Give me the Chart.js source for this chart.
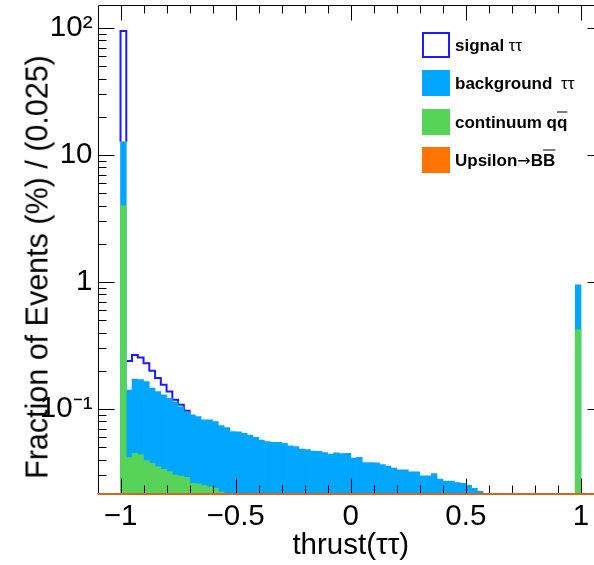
<!DOCTYPE html>
<html><head><meta charset="utf-8">
<script src="https://cdn.jsdelivr.net/npm/chart.js@4.4.1/dist/chart.umd.min.js"></script>
<style>
html,body{margin:0;padding:0;overflow:hidden;background:#fff;width:594px;height:565px;}
#wrap{position:relative;width:594px;height:565px;overflow:hidden;background:#fff;}
canvas{position:absolute;left:0;top:0;}
#ytitle{position:absolute;left:37px;top:267px;transform:translate(-50%,-50%) rotate(-90deg);font:30.5px "Liberation Sans",Arial,sans-serif;white-space:nowrap;color:#000;}
#legend{position:absolute;left:422px;top:0;font:bold 17px "Liberation Sans",Arial,sans-serif;color:#000;}
.entry{position:absolute;left:0;height:26px;width:170px;white-space:nowrap;}
.box{position:absolute;left:0;top:0;width:28px;height:26px;box-sizing:border-box;}
.lbl{position:absolute;left:33px;top:50%;transform:translateY(-50%);line-height:1;}
.ov{text-decoration:overline;}
.sym{font-weight:normal;}
.arr{font-weight:normal;font-family:"DejaVu Sans",sans-serif;font-size:16px;}
</style></head>
<body><div id="wrap"><canvas id="c" width="620" height="565" style="width:620px;height:565px"></canvas><div id="ytitle"></div><div id="legend"></div></div>
<script>
// ---- data ----
const binWidth = 0.025;
const binLow = [-1.000,-0.975,-0.950,-0.925,-0.900,-0.875,-0.850,-0.825,-0.800,-0.775,
 -0.750,-0.725,-0.700,-0.675,-0.650,-0.625,-0.600,-0.575,-0.550,-0.525,
 -0.500,-0.475,-0.450,-0.425,-0.400,-0.375,-0.350,-0.325,-0.300,-0.275,
 -0.250,-0.225,-0.200,-0.175,-0.150,-0.125,-0.100,-0.075,-0.050,-0.025,
 0.000,0.025,0.050,0.075,0.100,0.125,0.150,0.175,0.200,0.225,
 0.250,0.275,0.300,0.325,0.350,0.375,0.400,0.425,0.450,0.475,
 0.500,0.525,0.550,0.975];
// stacked height up to "background ττ" (blue fill top)
const backgroundTop = [12.7,0.141,0.172,0.170,0.164,0.146,0.137,0.129,0.121,0.114,
 0.104,0.095,0.090,0.087,0.082,0.082,0.0795,0.074,0.0713,0.0663,
 0.066,0.0643,0.0624,0.0598,0.057,0.0553,0.0547,0.0547,0.0537,0.0512,
 0.0505,0.0484,0.0478,0.0467,0.0464,0.0453,0.0442,0.0452,0.0446,0.0447,
 0.041,0.0416,0.0378,0.0378,0.0377,0.0365,0.0355,0.0343,0.0331,0.0331,
 0.032,0.032,0.0298,0.0298,0.031,0.028,0.0271,0.0271,0.0263,0.026,
 0.025,0.0237,0.0225,0.95];
// stacked height up to "continuum qq̄" (green fill top)
const continuumTop = [4.0,0.0414,0.0448,0.0435,0.0392,0.0373,0.0351,0.0335,0.0321,0.0302,
 0.0296,0.029,0.026,0.0257,0.0249,0.0244,0.0237,0.0222,null,null,
 null,null,null,null,null,null,null,null,null,null,
 null,null,null,null,null,null,null,null,null,null,
 null,null,null,null,null,null,null,null,null,null,
 null,null,null,null,null,null,null,null,null,null,
 null,null,null,0.42];
// total stack including "signal ττ" (outline), first bins where it rises above the rest
const signalTop = [94.7,0.239,0.266,0.254,0.229,0.200,0.175,0.155,0.137,0.118,0.108,0.097];

const xTickValues = [-1,-0.5,0,0.5,1];
const xTickLabels = ['\u22121','\u22120.5','0','0.5','1'];
const xMinorTicks = [-0.9,-0.8,-0.7,-0.6,-0.4,-0.3,-0.2,-0.1,0.1,0.2,0.3,0.4,0.6,0.7,0.8,0.9];
const yTickValues = [0.1,1,10,100];
const yTickLabels = ['10\u207B\u00B9','1','10','10\u00B2'];
const yMinorTicks = [0.03,0.04,0.05,0.06,0.07,0.08,0.09,0.2,0.3,0.4,0.5,0.6,0.7,0.8,0.9,
 2,3,4,5,6,7,8,9,20,30,40,50,60,70,80,90];

const seriesNames = ['signal \u03C4\u03C4','background \u03C4\u03C4','continuum q\u0305q','Upsilon\u2192BB\u0305'];
const colors = {signal:'#1c1cff', background:'#00a6ff', continuum:'#58d35a', upsilon:'#ff7400'};

// ---- build chart data ----
const centers = binLow.map(v => v + binWidth/2);
const bgData = centers.map((x,i) => ({x, y: backgroundTop[i]}));
const contData = centers.map((x,i) => ({x, y: continuumTop[i]}));
// signal outline: spike in first bin, then a separate step line over the following bins
const sigLine = [
  {x: binLow[0], y: backgroundTop[0]},
  {x: binLow[0], y: signalTop[0]},
  {x: binLow[1], y: backgroundTop[0]},
  {x: binLow[1], y: null}
];
signalTop.forEach((v,i) => { if (i > 0) sigLine.push({x: binLow[i], y: v}); });
sigLine.push({x: binLow[signalTop.length], y: backgroundTop[signalTop.length]});

const FONT = '"Liberation Sans", Arial, sans-serif';

const frameTicks = {
  id: 'frameTicks',
  afterDatasetsDraw(chart) {
    const {ctx, chartArea: a, scales: {x, y}} = chart;
    ctx.save();
    ctx.strokeStyle = '#000';
    ctx.lineWidth = 1;
    const L = Math.round(a.left) + 0.5, R = Math.round(a.right) - 0.5;
    const T = Math.round(a.top) + 0.5, B = Math.round(a.bottom) - 0.5;
    ctx.beginPath();
    ctx.rect(L, T, R - L, B - T);
    const xt = (v, len) => { const p = Math.round(x.getPixelForValue(v)) + 0.5;
      ctx.moveTo(p, B); ctx.lineTo(p, B - len); ctx.moveTo(p, T); ctx.lineTo(p, T + len); };
    const yt = (v, len) => { const p = Math.round(y.getPixelForValue(v)) + 0.5;
      ctx.moveTo(L, p); ctx.lineTo(L + len, p); ctx.moveTo(R, p); ctx.lineTo(R - len, p); };
    xTickValues.forEach(v => xt(v, 15));
    xMinorTicks.forEach(v => xt(v, 8));
    yTickValues.forEach(v => yt(v, 16));
    yMinorTicks.forEach(v => yt(v, 8));
    ctx.stroke();
    // Upsilon->BB histogram lies at the bottom of the frame
    ctx.strokeStyle = '#d8661a';
    ctx.lineWidth = 2;
    ctx.beginPath();
    ctx.moveTo(a.left, a.bottom); ctx.lineTo(a.right, a.bottom);
    ctx.stroke();
    ctx.restore();
  }
};

new Chart(document.getElementById('c'), {
  type: 'bar',
  data: { datasets: [
    {type: 'line', label: seriesNames[0], data: sigLine, stepped: true, spanGaps: false,
     borderColor: colors.signal, borderWidth: 2, pointRadius: 0, fill: false, order: 3},
    {label: seriesNames[1], data: bgData, backgroundColor: colors.background, borderWidth: 0,
     barPercentage: 1, categoryPercentage: 1, grouped: false, order: 2},
    {label: seriesNames[2], data: contData, backgroundColor: colors.continuum, borderWidth: 0,
     barPercentage: 1, categoryPercentage: 1, grouped: false, order: 1}
  ]},
  options: {
    responsive: false, animation: false, events: [],
    layout: {padding: {top: 5, right: 16, bottom: 0, left: 0}},
    plugins: {legend: {display: false}, tooltip: {enabled: false}},
    scales: {
      x: {type: 'linear', min: -1.1, max: 1.1, offset: false, bounds: 'data',
        grid: {display: false, drawTicks: false, offset: false}, border: {display: false},
        afterBuildTicks: s => { s.ticks = xTickValues.map(v => ({value: v})); },
        ticks: {callback: (v, i) => xTickLabels[i], font: {family: FONT, size: 29.5}, color: '#000',
          padding: 5, maxRotation: 0, autoSkip: false},
        title: {display: true, text: 'thrust(\u03C4\u03C4)', font: {family: FONT, size: 29.5}, color: '#000',
          padding: {top: 0, bottom: 1}},
        afterFit: s => { s.height = 71; s.paddingLeft = 0; s.paddingRight = 0; }
      },
      y: {type: 'logarithmic', min: 0.0214, max: 151.7, bounds: 'data',
        grid: {display: false, drawTicks: false}, border: {display: false},
        afterBuildTicks: s => { s.ticks = yTickValues.map(v => ({value: v})); },
        ticks: {callback: (v, i) => yTickLabels[i], font: {family: FONT, size: 29.5}, color: '#000',
          padding: 5, autoSkip: false},
        afterFit: s => { s.width = 97.5; s.paddingTop = 0; s.paddingBottom = 0; }
      }
    }
  },
  plugins: [frameTicks]
});

// ---- y title and legend as real text ----
document.getElementById('ytitle').textContent = 'Fraction of Events (%) / (0.025)';
const legendItems = [
  {html: 'signal <span class="sym">\u03C4\u03C4</span>', box: 'background:#fff;border:2px solid ' + colors.signal},
  {html: 'background <span class="sym" style="margin-left:4px">\u03C4\u03C4</span>', box: 'background:' + colors.background},
  {html: 'continuum q<span class="ov">q</span>', box: 'background:' + colors.continuum},
  {html: 'Upsilon<span class="arr">\u2192</span>B<span class="ov">B</span>', box: 'background:' + colors.upsilon}
];
const legendCenters = [45, 83.3, 121.7, 160];
document.getElementById('legend').innerHTML = legendItems.map((it, i) =>
  `<div class="entry" style="top:${legendCenters[i] - 13}px"><div class="box" style="${it.box}"></div><div class="lbl">${it.html}</div></div>`
).join('');
</script>
</body></html>
